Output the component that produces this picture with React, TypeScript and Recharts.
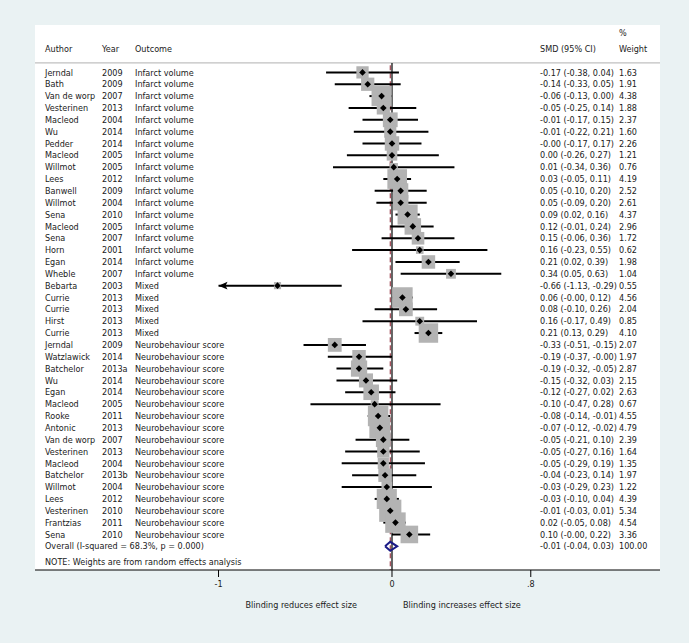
import React from 'react';
import {
  ComposedChart,
  XAxis,
  YAxis,
  Scatter,
  ErrorBar,
  Line,
  ReferenceLine,
  CartesianGrid,
  Label,
} from 'recharts';

const authors = [
  'Jerndal', 'Bath', 'Van de worp', 'Vesterinen', 'Macleod', 'Wu', 'Pedder', 'Macleod', 'Willmot', 'Lees',
  'Banwell', 'Willmot', 'Sena', 'Macleod', 'Sena', 'Horn', 'Egan', 'Wheble',
  'Bebarta', 'Currie', 'Currie', 'Hirst', 'Currie',
  'Jerndal', 'Watzlawick', 'Batchelor', 'Wu', 'Egan', 'Macleod', 'Rooke', 'Antonic', 'Van de worp',
  'Vesterinen', 'Macleod', 'Batchelor', 'Willmot', 'Lees', 'Vesterinen', 'Frantzias', 'Sena',
];
const years = [
  '2009', '2009', '2007', '2013', '2004', '2014', '2014', '2005', '2005', '2012',
  '2009', '2004', '2010', '2005', '2007', '2001', '2014', '2007',
  '2003', '2013', '2013', '2013', '2013',
  '2009', '2014', '2013a', '2014', '2014', '2005', '2011', '2013', '2007',
  '2013', '2004', '2013b', '2004', '2012', '2010', '2011', '2010',
];
const outcomes = [
  ...Array(18).fill('Infarct volume'),
  ...Array(5).fill('Mixed'),
  ...Array(17).fill('Neurobehaviour score'),
];
const smd = [
  -0.17, -0.14, -0.06, -0.05, -0.01, -0.01, -0.00, 0.00, 0.01, 0.03,
  0.05, 0.05, 0.09, 0.12, 0.15, 0.16, 0.21, 0.34,
  -0.66, 0.06, 0.08, 0.16, 0.21,
  -0.33, -0.19, -0.19, -0.15, -0.12, -0.10, -0.08, -0.07, -0.05,
  -0.05, -0.05, -0.04, -0.03, -0.03, -0.01, 0.02, 0.10,
];
const lower = [
  -0.38, -0.33, -0.13, -0.25, -0.17, -0.22, -0.17, -0.26, -0.34, -0.05,
  -0.10, -0.09, 0.02, -0.01, -0.06, -0.23, 0.02, 0.05,
  -1.13, -0.00, -0.10, -0.17, 0.13,
  -0.51, -0.37, -0.32, -0.32, -0.27, -0.47, -0.14, -0.12, -0.21,
  -0.27, -0.29, -0.23, -0.29, -0.10, -0.03, -0.05, -0.00,
];
const upper = [
  0.04, 0.05, 0.00, 0.14, 0.15, 0.21, 0.17, 0.27, 0.36, 0.11,
  0.20, 0.20, 0.16, 0.24, 0.36, 0.55, 0.39, 0.63,
  -0.29, 0.12, 0.26, 0.49, 0.29,
  -0.15, -0.00, -0.05, 0.03, 0.02, 0.28, -0.01, -0.02, 0.10,
  0.16, 0.19, 0.14, 0.23, 0.04, 0.01, 0.08, 0.22,
];
const weights = [
  1.63, 1.91, 4.38, 1.88, 2.37, 1.60, 2.26, 1.21, 0.76, 4.19,
  2.52, 2.61, 4.37, 2.96, 1.72, 0.62, 1.98, 1.04,
  0.55, 4.56, 2.04, 0.85, 4.10,
  2.07, 1.97, 2.87, 2.15, 2.63, 0.67, 4.55, 4.79, 2.39,
  1.64, 1.35, 1.97, 1.22, 4.39, 5.34, 4.54, 3.36,
];

const overall = { smd: -0.01, lower: -0.04, upper: 0.03, weight: 100.0 };
const overallLabel = 'Overall  (I-squared = 68.3%, p = 0.000)';
const note = 'NOTE: Weights are from random effects analysis';

const xTicks = [-1, 0, 0.8];
const xMin = -1; // CIs beyond the lowest tick are clipped with an arrow

const FONT = '"DejaVu Sans Condensed", "DejaVu Sans", sans-serif';
const FS = 9;
const TXT = '#1a1a1a';

const fmt = (v: number) => (Object.is(v, -0) ? '-' : '') + v.toFixed(2);
const ciText = (e: number, l: number, u: number) => `${fmt(e)} (${fmt(l)}, ${fmt(u)})`;

const nRows = authors.length;
const overallRow = nRows;
const noteRow = overallRow + 1.3;
const headerRow = -2;
const pctRow = -3.3;

const studies = smd.map((v, i) => {
  const lo = Math.max(lower[i], xMin);
  return { x: v, y: i, w: weights[i], err: [v - lo, upper[i] - v] };
});
const arrows = lower
  .map((l, i) => ({ l, i }))
  .filter((d) => d.l < xMin)
  .map((d) => ({ x: xMin, y: d.i }));
const diamondH = 0.38;
const overallDiamond = [
  { x: overall.lower, y: overallRow },
  { x: overall.smd, y: overallRow - diamondH },
  { x: overall.upper, y: overallRow },
  { x: overall.smd, y: overallRow + diamondH },
  { x: overall.lower, y: overallRow },
];

const COL = { author: 45, year: 102, outcome: 135, ci: 540, weight: 619 };

const RowText = (props: any) => {
  const { y, payload } = props;
  const v = payload.value;
  const t = (x: number, s: string) => (
    <text x={x} y={y} dy="0.35em" fontSize={FS} fontFamily={FONT} fill={TXT}>
      {s}
    </text>
  );
  if (v === pctRow) return <g>{t(COL.weight, '%')}</g>;
  if (v === headerRow)
    return (
      <g>
        {t(COL.author, 'Author')}
        {t(COL.year, 'Year')}
        {t(COL.outcome, 'Outcome')}
        {t(COL.ci, 'SMD (95% CI)')}
        {t(COL.weight, 'Weight')}
      </g>
    );
  if (v === noteRow) return <g>{t(COL.author, note)}</g>;
  if (v === overallRow)
    return (
      <g>
        {t(COL.author, overallLabel)}
        {t(COL.ci, ciText(overall.smd, overall.lower, overall.upper))}
        {t(COL.weight, overall.weight.toFixed(2))}
      </g>
    );
  const i = v as number;
  return (
    <g>
      {t(COL.author, authors[i])}
      {t(COL.year, years[i])}
      {t(COL.outcome, outcomes[i])}
      {t(COL.ci, ciText(smd[i], lower[i], upper[i]))}
      {t(COL.weight, weights[i].toFixed(2))}
    </g>
  );
};

const WeightBox = (props: any) => {
  const { cx, cy, payload } = props;
  const s = 9.6 * Math.sqrt(payload.w);
  return <rect x={cx - s / 2} y={cy - s / 2} width={s} height={s} fill="#b3b3b3" />;
};

const PointMark = (props: any) => {
  const { cx, cy } = props;
  const r = 3.3;
  return <polygon points={`${cx - r},${cy} ${cx},${cy - r} ${cx + r},${cy} ${cx},${cy + r}`} fill="#000" />;
};

const ArrowHead = (props: any) => {
  const { cx, cy } = props;
  return (
    <polygon
      points={`${cx},${cy} ${cx + 9},${cy - 3.8} ${cx + 7},${cy} ${cx + 9},${cy + 3.8}`}
      fill="#000"
    />
  );
};

const SideLabels = () => (
  <g fontSize={FS} fontFamily={FONT} fill={TXT}>
    <text x={357} y={605} dy="0.35em" textAnchor="end">
      Blinding reduces effect size
    </text>
    <text x={403} y={605} dy="0.35em">
      Blinding increases effect size
    </text>
  </g>
);

const rowTicks = [pctRow, headerRow, ...authors.map((_, i) => i), overallRow, noteRow];

export default function App() {
  return (
    <div style={{ position: 'absolute', left: 0, top: 0, width: 689, height: 643, background: '#eaf2f3' }}>
      <ComposedChart width={689} height={643} margin={{ top: 25, right: 29, bottom: 43, left: 34 }}>
        <CartesianGrid horizontal={false} vertical={false} fill="#ffffff" />
        <XAxis
          type="number"
          dataKey="x"
          domain={[-2.058, 1.545]}
          allowDataOverflow
          ticks={xTicks}
          interval={0}
          height={30}
          tickSize={7}
          tickMargin={4}
          stroke="#000"
          tick={{ fontSize: FS, fontFamily: FONT, fill: TXT }}
          tickFormatter={(v: number) => (v === 0.8 ? '.8' : String(v))}
        >
          <Label content={SideLabels} />
        </XAxis>
        <YAxis
          type="number"
          dataKey="y"
          domain={[-4, 42]}
          reversed
          allowDataOverflow
          width={1}
          ticks={rowTicks}
          interval={0}
          axisLine={false}
          tickLine={false}
          tick={<RowText />}
        />
        <ReferenceLine y={-0.8} stroke="#b0b0b0" strokeWidth={1} />
        <Scatter data={studies} shape={WeightBox} isAnimationActive={false} />
        <ReferenceLine
          segment={[
            { x: 0, y: -0.8 },
            { x: 0, y: 42 },
          ]}
          stroke="#000"
          strokeWidth={1.2}
        />
        <ReferenceLine
          segment={[
            { x: overall.smd, y: -0.6 },
            { x: overall.smd, y: 42 },
          ]}
          stroke="#8b1a2a"
          strokeWidth={1}
          strokeDasharray="5 3"
        />
        <Scatter data={studies} shape={PointMark} isAnimationActive={false}>
          <ErrorBar dataKey="err" direction="x" width={0} stroke="#000" strokeWidth={2} isAnimationActive={false} />
        </Scatter>
        <Scatter data={arrows} shape={ArrowHead} isAnimationActive={false} />
        <Line
          data={overallDiamond}
          dataKey="y"
          stroke="#1b1b87"
          strokeWidth={2}
          dot={false}
          isAnimationActive={false}
        />
      </ComposedChart>
    </div>
  );
}
